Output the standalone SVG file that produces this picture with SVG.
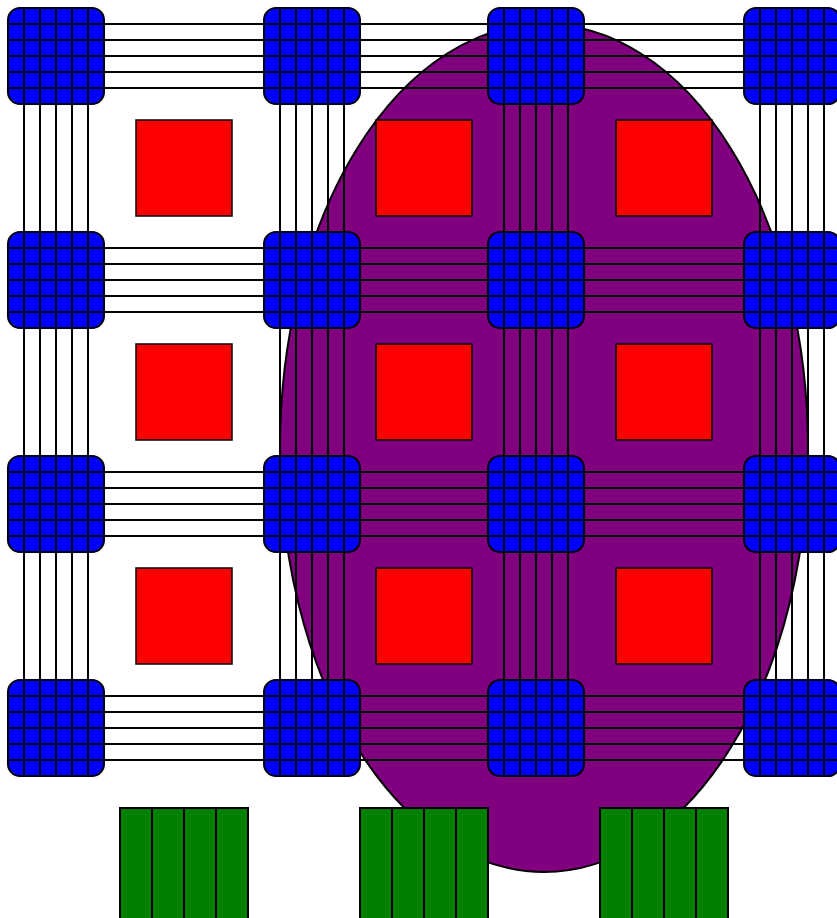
<svg xmlns="http://www.w3.org/2000/svg" width="837" height="918" viewBox="0 0 837 918">
<defs>
<style>
.ln{stroke:#000;stroke-width:2;fill:none}
.blue{fill:#0000ff;stroke:#000;stroke-width:2}
.red{fill:#ff0000;stroke:#000;stroke-width:1.5}
.green{fill:#008000;stroke:#000;stroke-width:2}
</style>
<g id="blk">
<rect class="blue" x="0" y="0" width="96" height="96" rx="12"/>
<path class="ln" d="M16 0V96M32 0V96M48 0V96M64 0V96M80 0V96M0 16H96M0 32H96M0 48H96M0 64H96M0 80H96"/>
</g>
<g id="hb"><path class="ln" d="M0 16H160M0 32H160M0 48H160M0 64H160M0 80H160"/></g>
<g id="vb"><path class="ln" d="M16 0V128M32 0V128M48 0V128M64 0V128M80 0V128"/></g>
<g id="gr">
<rect class="green" x="0" y="0" width="32" height="120"/>
<rect class="green" x="32" y="0" width="32" height="120"/>
<rect class="green" x="64" y="0" width="32" height="120"/>
<rect class="green" x="96" y="0" width="32" height="120"/>
</g>
</defs>
<rect width="837" height="918" fill="#fff"/>
<ellipse id="oval" cx="544" cy="448" rx="264" ry="424" fill="#800080" stroke="#000" stroke-width="2"/>
<g id="connectors">
<path class="ln" d="M104 24H264M104 40H264M104 56H264M104 72H264M104 88H264"/>
<path class="ln" d="M360 24H488M360 40H488M360 56H488M360 72H488M360 88H488"/>
<path class="ln" d="M584 24H744M584 40H744M584 56H744M584 72H744M584 88H744"/>
<path class="ln" d="M104 248H264M104 264H264M104 280H264M104 296H264M104 312H264"/>
<path class="ln" d="M360 248H488M360 264H488M360 280H488M360 296H488M360 312H488"/>
<path class="ln" d="M584 248H744M584 264H744M584 280H744M584 296H744M584 312H744"/>
<path class="ln" d="M104 472H264M104 488H264M104 504H264M104 520H264M104 536H264"/>
<path class="ln" d="M360 472H488M360 488H488M360 504H488M360 520H488M360 536H488"/>
<path class="ln" d="M584 472H744M584 488H744M584 504H744M584 520H744M584 536H744"/>
<path class="ln" d="M104 696H264M104 712H264M104 728H264M104 744H264M104 760H264"/>
<path class="ln" d="M360 696H488M360 712H488M360 728H488M360 744H488M360 760H488"/>
<path class="ln" d="M584 696H744M584 712H744M584 728H744M584 744H744M584 760H744"/>
<use href="#vb" x="8" y="104"/><use href="#vb" x="264" y="104"/><use href="#vb" x="488" y="104"/><use href="#vb" x="744" y="104"/>
<use href="#vb" x="8" y="328"/><use href="#vb" x="264" y="328"/><use href="#vb" x="488" y="328"/><use href="#vb" x="744" y="328"/>
<use href="#vb" x="8" y="552"/><use href="#vb" x="264" y="552"/><use href="#vb" x="488" y="552"/><use href="#vb" x="744" y="552"/>
</g>
<g id="red-squares">
<rect id="r1" class="red" x="136" y="120" width="96" height="96"/>
<rect id="r2" class="red" x="376" y="120" width="96" height="96"/>
<rect id="r3" class="red" x="616" y="120" width="96" height="96"/>
<rect id="r4" class="red" x="136" y="344" width="96" height="96"/>
<rect id="r5" class="red" x="376" y="344" width="96" height="96"/>
<rect id="r6" class="red" x="616" y="344" width="96" height="96"/>
<rect id="r7" class="red" x="136" y="568" width="96" height="96"/>
<rect id="r8" class="red" x="376" y="568" width="96" height="96"/>
<rect id="r9" class="red" x="616" y="568" width="96" height="96"/>
</g>
<g id="blocks">
<g id="b11"><use href="#blk" x="8" y="8"/></g>
<g id="b12"><use href="#blk" x="264" y="8"/></g>
<g id="b13"><use href="#blk" x="488" y="8"/></g>
<g id="b14"><use href="#blk" x="744" y="8"/></g>
<g id="b21"><use href="#blk" x="8" y="232"/></g>
<g id="b22"><use href="#blk" x="264" y="232"/></g>
<g id="b23"><use href="#blk" x="488" y="232"/></g>
<g id="b24"><use href="#blk" x="744" y="232"/></g>
<g id="b31"><use href="#blk" x="8" y="456"/></g>
<g id="b32"><use href="#blk" x="264" y="456"/></g>
<g id="b33"><use href="#blk" x="488" y="456"/></g>
<g id="b34"><use href="#blk" x="744" y="456"/></g>
<g id="b41"><use href="#blk" x="8" y="680"/></g>
<g id="b42"><use href="#blk" x="264" y="680"/></g>
<g id="b43"><use href="#blk" x="488" y="680"/></g>
<g id="b44"><use href="#blk" x="744" y="680"/></g>
</g>
<g id="green-banks">
<g id="g1"><use href="#gr" x="120" y="808"/></g>
<g id="g2"><use href="#gr" x="360" y="808"/></g>
<g id="g3"><use href="#gr" x="600" y="808"/></g>
</g>
</svg>
